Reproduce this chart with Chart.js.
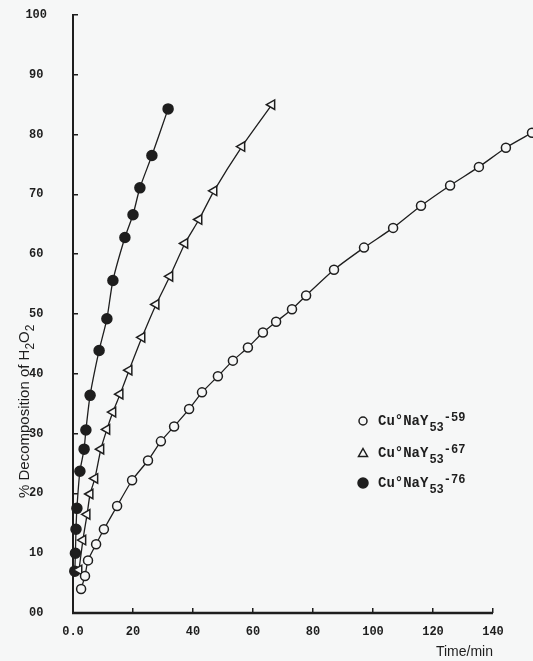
<!DOCTYPE html>
<html>
<head>
<meta charset="utf-8">
<script src="https://cdn.jsdelivr.net/npm/chart.js@4.4.1/dist/chart.umd.min.js"></script>
<style>
html, body { margin: 0; padding: 0; background: #f6f7f7; }
</style>
</head>
<body>
<canvas id="decompChart" width="533" height="661"></canvas>
<script>
// values: time in min, % decomposition of H2O2
const time59 = [2.7, 4, 5, 7.7, 10.3, 14.7, 19.7, 25, 29.3, 33.7, 38.7, 43, 48.3, 53.3, 58.3, 63.3, 67.7, 73, 77.7, 87, 97, 106.7, 116, 125.7, 135.3, 144.3, 153];
const pct59 = [4.0, 6.2, 8.8, 11.5, 14.0, 17.9, 22.2, 25.5, 28.7, 31.2, 34.1, 36.9, 39.6, 42.2, 44.4, 46.9, 48.7, 50.8, 53.1, 57.4, 61.1, 64.4, 68.1, 71.5, 74.6, 77.8, 80.3];

const time67 = [2, 3.3, 4.7, 5.7, 7.3, 9.3, 11.3, 13.3, 15.7, 18.7, 23, 27.7, 32.3, 37.3, 42, 47, 56.3, 66.3];
const pct67 = [7.2, 12.2, 16.5, 19.9, 22.5, 27.4, 30.7, 33.6, 36.6, 40.6, 46.1, 51.6, 56.3, 61.8, 65.8, 70.6, 78.0, 85.0];

const time76 = [0.6, 0.8, 1.0, 1.3, 2.3, 3.7, 4.3, 5.7, 8.7, 11.3, 13.3, 17.3, 20, 22.3, 26.3, 31.7];
const pct76 = [7, 10, 14, 17.5, 23.7, 27.4, 30.6, 36.4, 43.9, 49.2, 55.6, 62.8, 66.6, 71.1, 76.5, 84.3];

const sampleCodes = ['-59', '-67', '-76'];
const xTickLabels = ['0.0', '20', '40', '60', '80', '100', '120', '140'];
const yTickLabels = ['00', '10', '20', '30', '40', '50', '60', '70', '80', '90', '100'];

const ink = '#1e1e1e';
const paper = '#f6f7f7';
const tickFont = { family: 'Liberation Mono', size: 12, weight: 'bold' };
const axisEnd = 140; // drawn axis stops here, the 59 curve runs on past it

function toPoints(xs, ys) {
    var pts = [];
    for (var i = 0; i < xs.length; i++) {
        pts.push({ x: xs[i], y: ys[i] });
    }
    return pts;
}

// marker shapes shared by plot and legend
const markers = [
    { pointStyle: 'circle', radius: 4.5, fill: paper, rotation: 0 },
    { pointStyle: 'triangle', radius: 5.5, fill: paper, rotation: -90 },
    { pointStyle: 'circle', radius: 5, fill: ink, rotation: 0 }
];

const seriesData = [toPoints(time59, pct59), toPoints(time67, pct67), toPoints(time76, pct76)];

const datasets = seriesData.map(function(pts, i) {
    return {
        label: 'Cu°NaY53' + sampleCodes[i],
        data: pts,
        showLine: true,
        clip: false,
        borderColor: ink,
        borderWidth: 1.3,
        tension: 0.2,
        pointStyle: markers[i].pointStyle,
        pointRotation: markers[i].rotation,
        pointRadius: markers[i].radius,
        pointBackgroundColor: markers[i].fill,
        pointBorderColor: ink,
        pointBorderWidth: 1.5
    };
});

// paper colour behind everything
const paperBg = {
    id: 'paperBg',
    beforeDraw: function(chart) {
        const ctx = chart.ctx;
        ctx.save();
        ctx.fillStyle = paper;
        ctx.fillRect(0, 0, chart.width, chart.height);
        ctx.restore();
    }
};

// x axis line only up to 140 min, and its title under the end
const xAxisLine = {
    id: 'xAxisLine',
    beforeDatasetsDraw: function(chart) {
        const ctx = chart.ctx;
        const xs = chart.scales.x;
        const y = chart.chartArea.bottom;
        ctx.save();
        ctx.strokeStyle = ink;
        ctx.lineWidth = 2.5;
        ctx.beginPath();
        ctx.moveTo(xs.getPixelForValue(0) - 1, y);
        ctx.lineTo(xs.getPixelForValue(axisEnd), y);
        ctx.stroke();
        ctx.fillStyle = ink;
        ctx.font = '14px "Liberation Sans"';
        ctx.textAlign = 'right';
        ctx.textBaseline = 'middle';
        ctx.fillText('Time/min', xs.getPixelForValue(axisEnd), 652);
        ctx.restore();
    }
};

// y title with subscripts, placed low along the axis like the original
const yTitle = {
    id: 'yTitle',
    afterDraw: function(chart) {
        const ctx = chart.ctx;
        ctx.save();
        ctx.translate(25, 498);
        ctx.rotate(-Math.PI / 2);
        ctx.fillStyle = ink;
        ctx.textBaseline = 'middle';
        ctx.textAlign = 'left';
        const parts = [['% Decomposition of H', 0], ['2', 1], ['O', 0], ['2', 1]];
        var x = 0;
        parts.forEach(function(p) {
            ctx.font = p[1] ? '12px "Liberation Sans"' : '15px "Liberation Sans"';
            ctx.fillText(p[0], x, p[1] ? 6 : 0);
            x += ctx.measureText(p[0]).width;
        });
        ctx.restore();
    }
};

// legend with subscript 53 and raised sample code
const subLegend = {
    id: 'subLegend',
    afterDraw: function(chart) {
        const ctx = chart.ctx;
        const rows = [421, 453, 483];
        ctx.save();
        rows.forEach(function(y, i) {
            const mx = 363;
            ctx.lineWidth = 1.5;
            ctx.strokeStyle = ink;
            ctx.fillStyle = markers[i].fill;
            ctx.beginPath();
            if (markers[i].pointStyle === 'triangle') {
                ctx.moveTo(mx, y - 4.5);
                ctx.lineTo(mx + 4.5, y + 3.5);
                ctx.lineTo(mx - 4.5, y + 3.5);
                ctx.closePath();
            } else {
                ctx.arc(mx, y, i === 2 ? 5 : 4, 0, Math.PI * 2);
            }
            ctx.fill();
            ctx.stroke();

            ctx.fillStyle = ink;
            ctx.textBaseline = 'middle';
            ctx.textAlign = 'left';
            var x = 378;
            ctx.font = 'bold 14px "Liberation Mono"';
            ctx.fillText('Cu°NaY', x, y);
            x += ctx.measureText('Cu°NaY').width + 1;
            ctx.font = 'bold 12px "Liberation Mono"';
            ctx.fillText('53', x, y + 7);
            x += ctx.measureText('53').width;
            ctx.fillText(sampleCodes[i], x, y - 3);
        });
        ctx.restore();
    }
};

const config = {
    type: 'scatter',
    data: { datasets: datasets },
    options: {
        responsive: false,
        animation: false,
        layout: { autoPadding: false, padding: { left: 0, right: 0, top: 15, bottom: 0 } },
        plugins: {
            legend: { display: false },
            tooltip: { enabled: false }
        },
        scales: {
            x: {
                type: 'linear',
                min: 0,
                max: axisEnd + 40 / 3,
                afterFit: function(scale) {
                    scale.height = 48;
                    scale.paddingLeft = 0;
                    scale.paddingRight = 0;
                },
                afterBuildTicks: function(scale) {
                    scale.ticks = scale.ticks.filter(function(t) { return t.value <= axisEnd; });
                },
                border: { display: false },
                grid: { drawOnChartArea: false, drawTicks: true, tickLength: -5, color: ink, lineWidth: 1.5 },
                ticks: {
                    stepSize: 20,
                    includeBounds: false,
                    autoSkip: false,
                    maxRotation: 0,
                    padding: 17,
                    color: ink,
                    font: tickFont,
                    callback: function(value, index) { return xTickLabels[index]; }
                }
            },
            y: {
                min: 0,
                max: 100,
                afterFit: function(scale) {
                    scale.width = 73;
                    scale.paddingTop = 7;
                    scale.paddingBottom = 7;
                },
                border: { display: true, color: ink, width: 2 },
                grid: { drawOnChartArea: false, drawTicks: true, tickLength: -5, color: ink, lineWidth: 1.5 },
                ticks: {
                    stepSize: 10,
                    autoSkip: false,
                    crossAlign: 'center',
                    padding: 31,
                    color: ink,
                    font: tickFont,
                    callback: function(value, index) { return yTickLabels[index]; }
                }
            }
        }
    },
    plugins: [paperBg, xAxisLine, yTitle, subLegend]
};

new Chart(document.getElementById('decompChart'), config);
</script>
</body>
</html>
